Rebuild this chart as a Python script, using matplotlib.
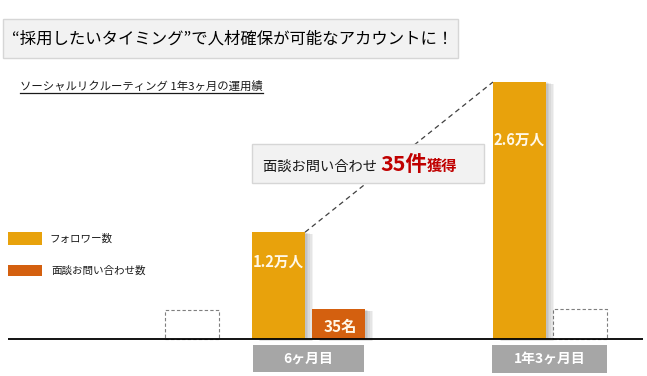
import matplotlib
matplotlib.use('Agg')
import matplotlib.pyplot as plt
from matplotlib.patches import Rectangle
from matplotlib.lines import Line2D
import matplotlib.patheffects as pe

plt.rcParams['font.family'] = ['Noto Sans CJK JP', 'DejaVu Sans']

# ---------------- data ----------------
title = '“採用したいタイミング”で人材確保が可能なアカウントに！'
subtitle = 'ソーシャルリクルーティング 1年3ヶ月の運用績'
periods = ['6ヶ月目', '1年3ヶ月目']
follower_labels = ['1.2万人', '2.6万人']
follower_heights = [1.08, 2.6]      # drawn heights (the slide is not to scale)
inquiry_label = '35名'
inquiry_height = 0.30
start_placeholder_height = 0.29
end_placeholder_height = 0.30
legend_labels = ['フォロワー数', '面談お問い合わせ数']
callout_parts = ['面談お問い合わせ ', '35件', '獲得']

# ---------------- style ----------------
C_FOLLOW = '#E8A20C'
C_INQ = '#D4600F'
C_GRAY = '#A6A6A6'
C_BOX = '#F2F2F2'
C_BOXEDGE = '#D6D6D6'
C_RED = '#C00000'

W, H = 647, 376
fig = plt.figure(figsize=(W / 100, H / 100), dpi=100)
ax = fig.add_axes([0, 0, 1, 1])
PX = 241.0          # pixels per group unit
K = 257 / 2.6       # pixels per height unit
G1 = 308.5          # pixel of group 1 centre
ax.set_xlim(-G1 / PX + 1, (W - G1) / PX + 1)
ax.set_ylim(-37 / K, 339 / K)
ax.axis('off')


def fx(px):
    return px / W


def fy(py):
    return 1 - py / H


groups = [1, 2]
bw = 53 / PX
off = 30 / PX

shadow = [pe.SimplePatchShadow(offset=(d, -0.25 * d), shadow_rgbFace='black', alpha=0.05)
          for d in (1.2, 2.4, 3.6, 4.8, 6.0)] + [pe.Normal()]

# follower bars
fb = ax.bar([g - off for g in groups], follower_heights, width=bw, color=C_FOLLOW, zorder=3)
for p in fb:
    p.set_path_effects(shadow)

# inquiry bar
ib = ax.bar([groups[0] + off], [inquiry_height], width=bw, color=C_INQ, zorder=3)
for p in ib:
    p.set_path_effects(shadow)

# dashed placeholders
start_pos = (192 - G1) / PX + 1
ax.bar([start_pos], [start_placeholder_height], width=54 / PX, fill=False,
       edgecolor='#7F7F7F', linestyle=(0, (3, 2)), linewidth=0.8, zorder=2)
ax.bar([groups[1] + off], [end_placeholder_height], width=54 / PX, fill=False,
       edgecolor='#7F7F7F', linestyle=(0, (3, 2)), linewidth=0.8, zorder=2)

# period label boxes
ax.bar(groups, [-27 / K, -28 / K], bottom=-6 / K, width=[111 / PX, 115 / PX],
       color=C_GRAY, zorder=3)
for g, lab in zip(groups, periods):
    ax.text(g, -19.5 / K, lab, ha='center', va='center', color='white',
            fontsize=10, fontweight='bold', zorder=4)

# baseline
ax.plot([(8 - G1) / PX + 1, (643 - G1) / PX + 1], [0, 0], color='black', lw=1.3, zorder=4,
        solid_capstyle='butt')

# bar labels
label_frac = [0.72, 0.775]
for g, h, lab, fr in zip(groups, follower_heights, follower_labels, label_frac):
    ax.text(g - off, h * fr, lab, ha='center', va='center', color='#FFF8E8',
            fontsize=10.5, fontweight='bold', zorder=4)
ax.text(groups[0] + off + 2 / PX, 12 / K, inquiry_label, ha='center', va='center',
        color='#FFF8E8', fontsize=11, fontweight='bold', zorder=4)

# dashed connector between follower bar tops
ax.plot([groups[0] - off + bw / 2, groups[1] - off - bw / 2],
        [follower_heights[0], follower_heights[1]],
        color='#404040', lw=0.9, ls=(0, (4, 3)), zorder=1)

# ---------- title box ----------
fig.add_artist(Rectangle((fx(3), fy(58)), (458 - 3) / W, (58 - 19) / H,
                         transform=fig.transFigure, facecolor=C_BOX,
                         edgecolor=C_BOXEDGE, lw=1, zorder=5))
fig.text(fx(12), fy(39), title, fontsize=11.8, va='center', ha='left',
         color='black', zorder=6)

# ---------- subtitle (underlined) ----------
renderer = fig.canvas.get_renderer()
st = fig.text(fx(20), fy(89.5), subtitle, fontsize=8.2, va='baseline', ha='left',
              color='#1A1A1A', zorder=6)
bb = st.get_window_extent(renderer)
fig.add_artist(Line2D([bb.x0 / W, bb.x1 / W], [fy(93), fy(93)], transform=fig.transFigure,
                      color='#1A1A1A', lw=0.9))

# ---------- legend ----------
leg_colors = [C_FOLLOW, C_INQ]
leg_rows = [(232, 245, 49, 239), (265, 276, 51, 271)]
for col, lab, (y0, y1, tx, ty) in zip(leg_colors, legend_labels, leg_rows):
    fig.add_artist(Rectangle((fx(8), fy(y1)), 34 / W, (y1 - y0) / H,
                             transform=fig.transFigure, facecolor=col,
                             edgecolor='none', zorder=5))
    fig.text(fx(tx), fy(ty), lab, fontsize=7.6, va='center', ha='left',
             color='#1A1A1A', zorder=6)

# ---------- callout box ----------
fig.add_artist(Rectangle((fx(252), fy(183)), (484 - 252) / W, (183 - 144) / H,
                         transform=fig.transFigure, facecolor=C_BOX,
                         edgecolor=C_BOXEDGE, lw=1, zorder=5))
inv = fig.transFigure.inverted()
x = fx(263)
sizes = [10.3, 15.5, 11]
colors = ['#1A1A1A', C_RED, C_RED]
weights = ['normal', 'bold', 'bold']
for part, s, c, w in zip(callout_parts, sizes, colors, weights):
    t = fig.text(x, fy(171), part, fontsize=s, color=c, fontweight=w,
                 va='baseline', ha='left', zorder=6)
    b = t.get_window_extent(renderer)
    x = inv.transform((b.x1, 0))[0]

fig.savefig('out.png', dpi=100, facecolor='white')
